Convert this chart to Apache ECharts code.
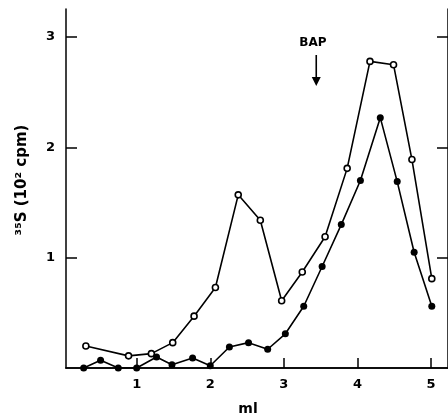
<!DOCTYPE html>
<html>
<head>
<meta charset="utf-8">
<script src="https://cdn.jsdelivr.net/npm/echarts@6/dist/echarts.min.js"></script>
<style>
  html, body { margin: 0; padding: 0; background: #fff; }
  #chart { width: 448px; height: 415px; }
</style>
</head>
<body>
<div id="chart"></div>
<script>
  // open circles
  const openX = [0.31, 0.89, 1.20, 1.49, 1.78, 2.07, 2.38, 2.68, 2.97, 3.25, 3.56, 3.86, 4.17, 4.49, 4.74, 5.01]
  const openY = [0.20, 0.11, 0.13, 0.23, 0.47, 0.73, 1.57, 1.34, 0.61, 0.87, 1.19, 1.81, 2.78, 2.75, 1.89, 0.81]
  // filled circles
  const fillX = [0.28, 0.51, 0.75, 1.00, 1.27, 1.48, 1.76, 2.00, 2.26, 2.52, 2.78, 3.02, 3.27, 3.52, 3.78, 4.04, 4.31, 4.54, 4.77, 5.01]
  const fillY = [0.00, 0.07, 0.00, 0.00, 0.10, 0.03, 0.09, 0.02, 0.19, 0.23, 0.17, 0.31, 0.56, 0.92, 1.30, 1.70, 2.27, 1.69, 1.05, 0.56]
  const xTicks = [1, 2, 3, 4, 5]
  const yTicks = [1, 2, 3]
  const bapAt = 3.44

  const font = 'DejaVu Sans'
  const chart = echarts.init(document.getElementById('chart'), null, { renderer: 'canvas' })

  const pairs = (xs, ys) => xs.map((x, i) => [x, ys[i]])

  chart.setOption({
    animation: false,
    backgroundColor: '#fff',
    grid: { left: 66, top: 9, width: 383, height: 359 },
    xAxis: [{
      type: 'value', min: 0.04, max: 5.23,
      axisLine: { lineStyle: { color: '#000', width: 1.5 } },
      axisTick: { inside: true, length: 10, customValues: xTicks, lineStyle: { color: '#000', width: 1.5 } },
      axisLabel: { customValues: xTicks, color: '#000', fontFamily: font, fontWeight: 'bold', fontSize: 13, margin: 10 },
      splitLine: { show: false }
    }, {
      type: 'value', position: 'top', min: 0.04, max: 5.23,
      axisLine: { show: true, lineStyle: { color: '#000', width: 1.5 } },
      axisTick: { show: false }, axisLabel: { show: false }, splitLine: { show: false }
    }],
    yAxis: [{
      type: 'value', min: 0, max: 3.255,
      axisLine: { show: true, lineStyle: { color: '#000', width: 1.5 } },
      axisTick: { show: true, inside: true, length: 11, customValues: yTicks, lineStyle: { color: '#000', width: 1.5 } },
      axisLabel: { customValues: yTicks, color: '#000', fontFamily: font, fontWeight: 'bold', fontSize: 13, margin: 11 },
      splitLine: { show: false }
    }, {
      type: 'value', position: 'right', min: 0, max: 3.255,
      axisLine: { show: true, lineStyle: { color: '#000', width: 1.5 } },
      axisTick: { show: true, inside: true, length: 11, customValues: yTicks, lineStyle: { color: '#000', width: 1.5 } },
      axisLabel: { show: false }, splitLine: { show: false }
    }],
    series: [{
      name: 'open', type: 'line', data: pairs(openX, openY),
      symbol: 'circle', symbolSize: 6,
      lineStyle: { color: '#000', width: 1.6 },
      itemStyle: { color: '#fff', borderColor: '#000', borderWidth: 1.6 },
      z: 3
    }, {
      name: 'filled', type: 'line', data: pairs(fillX, fillY),
      symbol: 'circle', symbolSize: 7,
      lineStyle: { color: '#000', width: 1.6 },
      itemStyle: { color: '#000', borderColor: '#000', borderWidth: 0 },
      z: 4
    }]
  })

  // annotations placed through the axes
  const ax = chart.convertToPixel({ xAxisIndex: 0 }, bapAt)
  chart.setOption({
    graphic: [
      { type: 'text', left: ax - 17, top: 37,
        style: { text: 'BAP', font: 'bold 12px "DejaVu Sans"', fill: '#000' } },
      { type: 'line', shape: { x1: ax, y1: 55, x2: ax, y2: 79 }, style: { stroke: '#000', lineWidth: 1.6 } },
      { type: 'polygon', shape: { points: [[ax - 4.5, 77], [ax + 4.5, 77], [ax, 86]] }, style: { fill: '#000' } },
      { type: 'text', x: 22, y: 180, rotation: Math.PI / 2,
        style: { text: '³⁵S (10² cpm)', font: 'bold 15px "DejaVu Sans"', fill: '#000', align: 'center', verticalAlign: 'middle' } },
      { type: 'text', x: 248, y: 409,
        style: { text: 'ml', font: 'bold 14px "DejaVu Sans"', fill: '#000', align: 'center', verticalAlign: 'middle' } }
    ]
  })
</script>
</body>
</html>
